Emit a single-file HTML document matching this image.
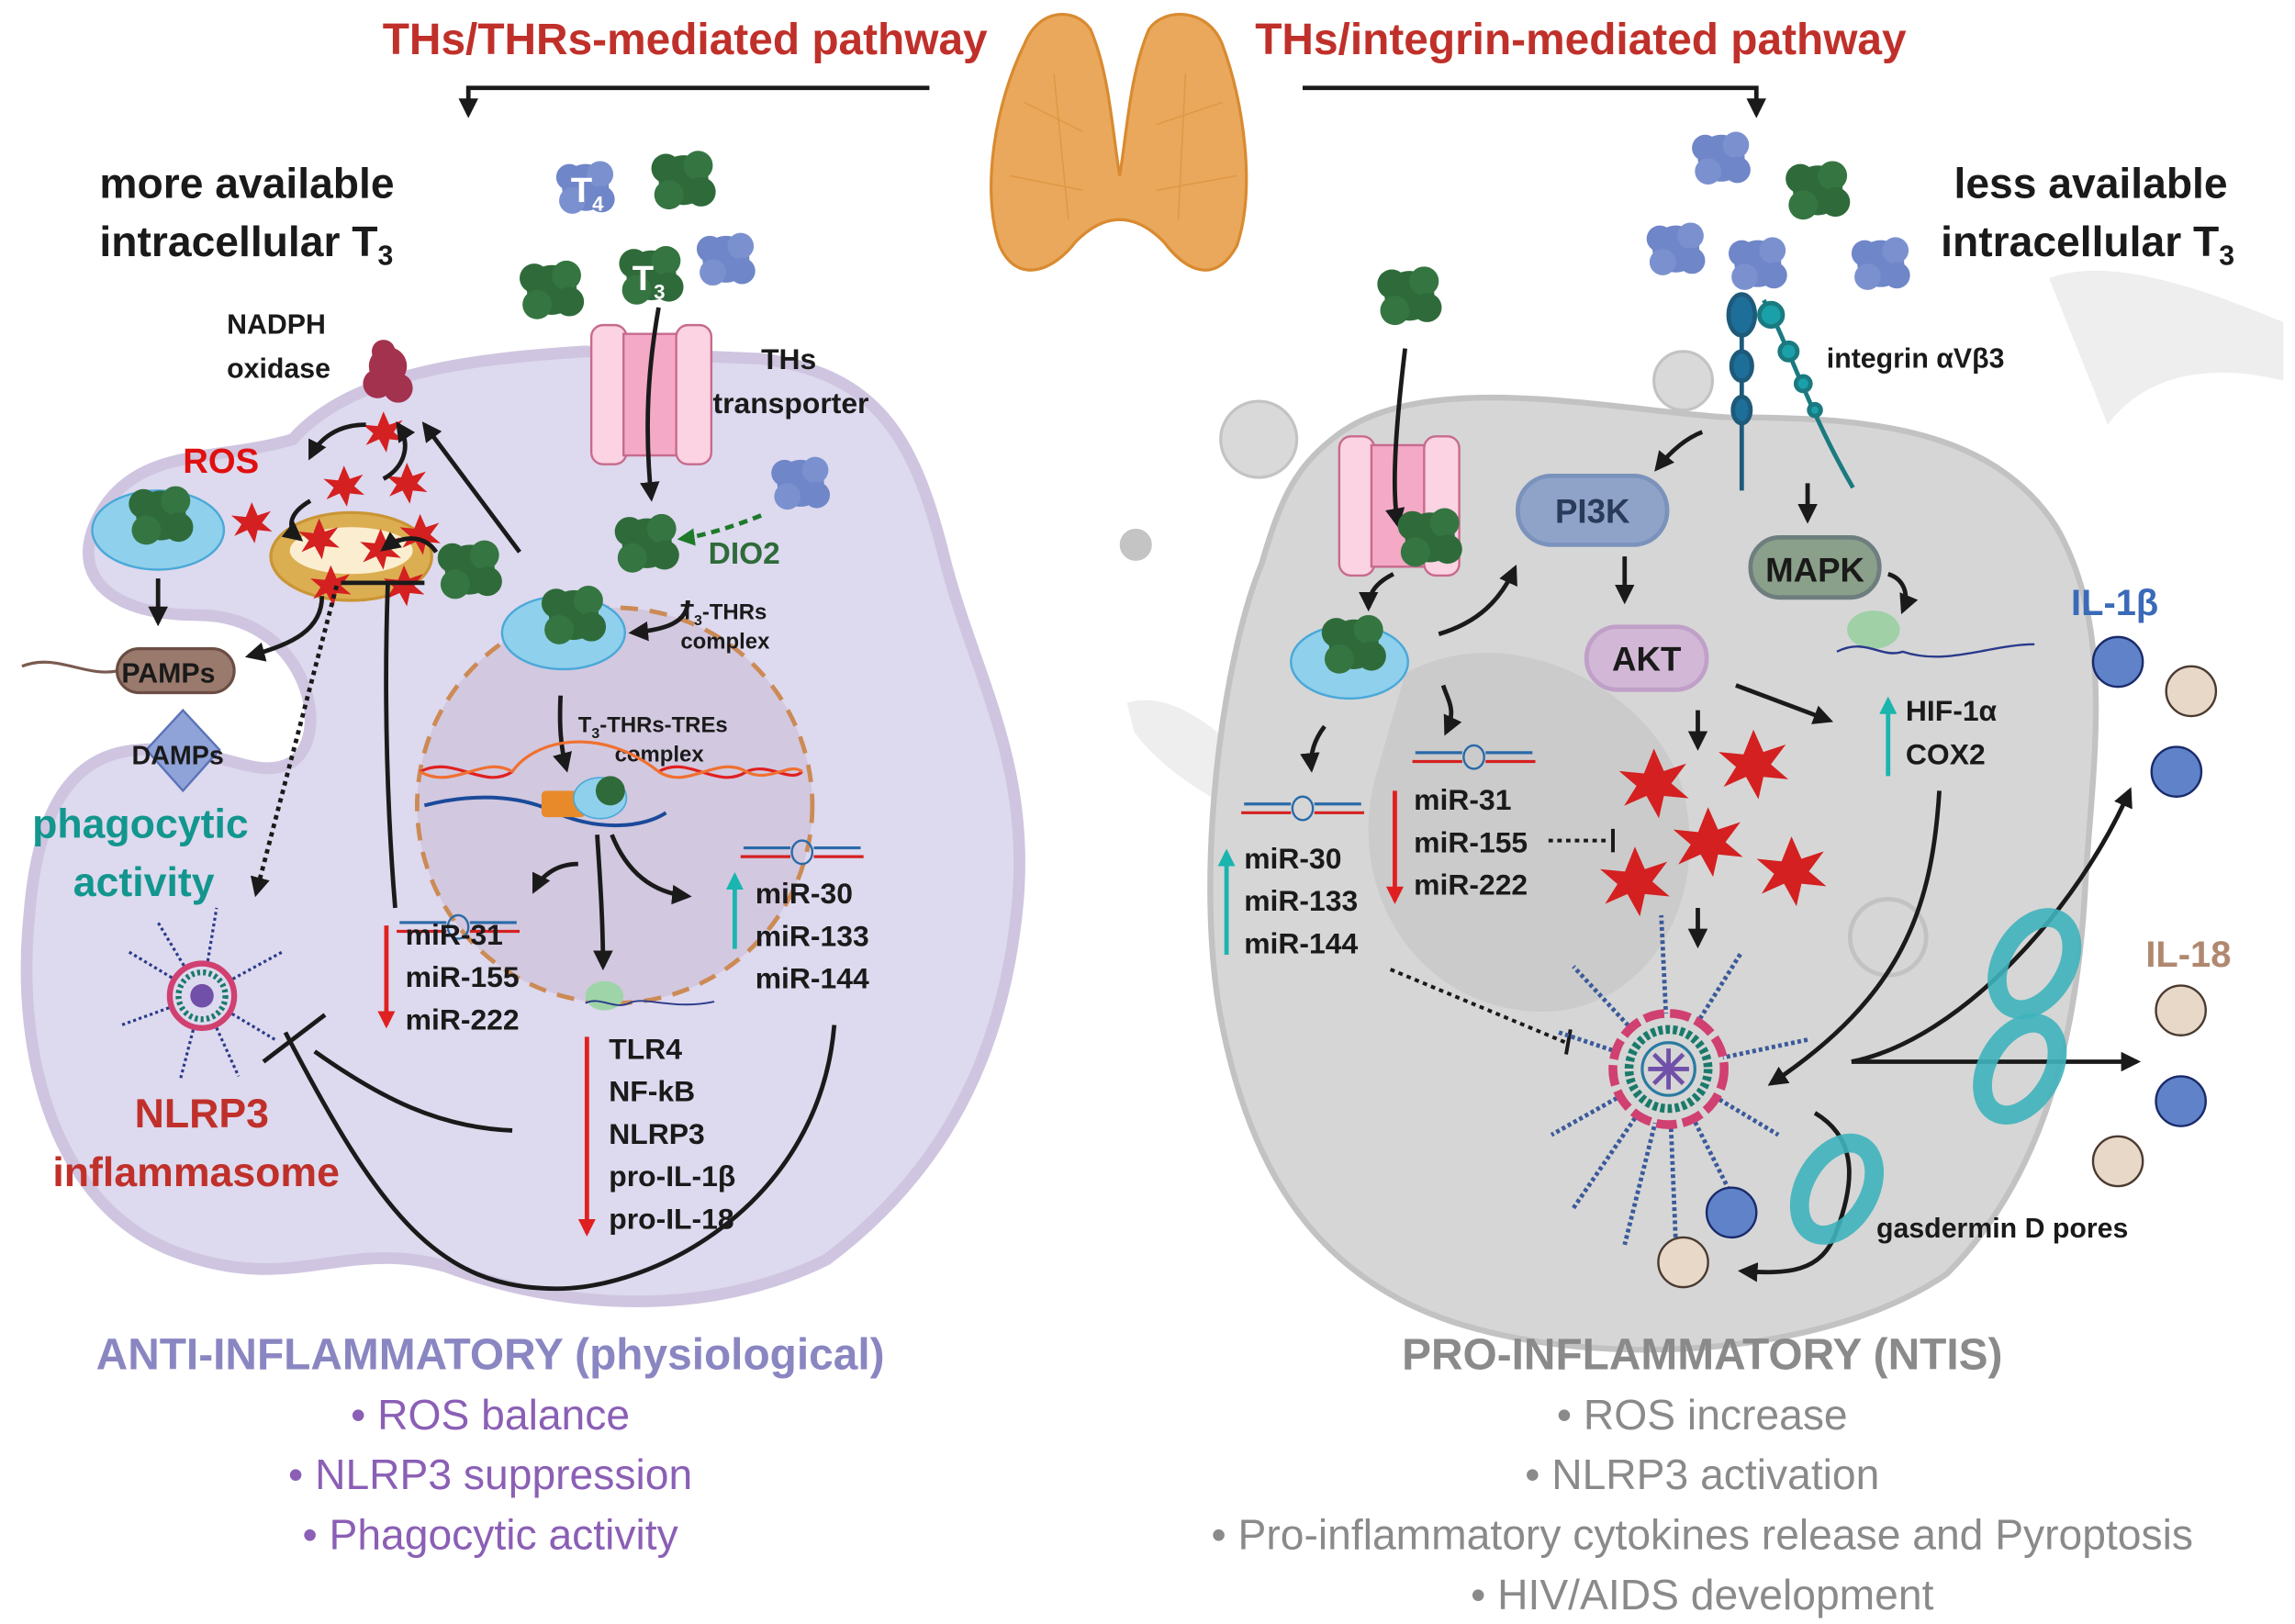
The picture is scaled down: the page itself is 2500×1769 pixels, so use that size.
<!DOCTYPE html>
<html><head><meta charset="utf-8"><style>
html,body{margin:0;padding:0;background:#fff}
svg{display:block}
text{font-family:"Liberation Sans",sans-serif}
.b{font-weight:bold;fill:#1a1a1a}
</style></head><body>
<svg width="2500" height="1769" viewBox="0 0 1568 1109" preserveAspectRatio="none" xmlns="http://www.w3.org/2000/svg">
<defs>
<marker id="ah" viewBox="0 0 10 10" refX="8" refY="5" markerWidth="4.5" markerHeight="4.5" orient="auto"><path d="M0,0 L10,5 L0,10 z" fill="#1a1a1a"/></marker>
<marker id="ahr" viewBox="0 0 10 10" refX="8" refY="5" markerWidth="4" markerHeight="4" orient="auto"><path d="M0,0 L10,5 L0,10 z" fill="#e02020"/></marker>
<marker id="aht" viewBox="0 0 10 10" refX="8" refY="5" markerWidth="4" markerHeight="4" orient="auto"><path d="M0,0 L10,5 L0,10 z" fill="#19b5ae"/></marker>
<marker id="ahg" viewBox="0 0 10 10" refX="8" refY="5" markerWidth="4" markerHeight="4" orient="auto"><path d="M0,0 L10,5 L0,10 z" fill="#1e7a2a"/></marker>
<g id="gb"><circle cx="0" cy="0" r="17" fill="#2f6b3a"/><circle cx="-12" cy="-8" r="10" fill="#2f6b3a"/><circle cx="10" cy="-10" r="10" fill="#357541"/><circle cx="12" cy="8" r="10" fill="#2f6b3a"/><circle cx="-10" cy="10" r="10" fill="#357541"/></g>
<g id="bb"><circle cx="0" cy="0" r="16" fill="#6f86c8"/><circle cx="-11" cy="-7" r="9" fill="#6f86c8"/><circle cx="10" cy="-9" r="9" fill="#7b91cf"/><circle cx="11" cy="8" r="9" fill="#6f86c8"/><circle cx="-9" cy="9" r="9" fill="#7b91cf"/></g>
<path id="st" d="M0,-14 L4,-5 L13,-8 L7,0 L14,6 L4,5 L2,14 L-3,5 L-12,9 L-7,1 L-14,-5 L-4,-4 z" fill="#d42020"/>
<g id="mir"><line x1="-42" y1="0" x2="-8" y2="0" stroke="#d42020" stroke-width="2"/><line x1="8" y1="0" x2="42" y2="0" stroke="#d42020" stroke-width="2"/><line x1="-40" y1="-6" x2="-8" y2="-6" stroke="#2a6aa8" stroke-width="2"/><line x1="8" y1="-6" x2="40" y2="-6" stroke="#2a6aa8" stroke-width="2"/><ellipse cx="0" cy="-3" rx="7" ry="8" fill="none" stroke="#2a6aa8" stroke-width="1.5"/></g>
<g id="pore"><ellipse cx="0" cy="0" rx="22" ry="34" fill="none" stroke="#3fb3bd" stroke-width="13" opacity="0.9" transform="rotate(30)"/></g>
</defs>

<!-- right background decorations -->
<path d="M1400,190 C1440,175 1500,195 1560,220 L1560,260 C1520,250 1470,250 1440,290 Z" fill="#eeeeee"/>
<path d="M770,480 C800,470 840,500 868,540 L862,560 C820,545 790,520 775,500 Z" fill="#eeeeee"/>
<circle cx="860" cy="300" r="26" fill="#d9d9d9" stroke="#c3c3c3" stroke-width="2"/>
<circle cx="1150" cy="260" r="20" fill="#d9d9d9" stroke="#c3c3c3" stroke-width="2"/>
<circle cx="776" cy="372" r="11" fill="#c4c4c4"/>

<!-- right cell -->
<path d="M910,300 C970,250 1100,280 1180,285 C1270,285 1360,290 1405,360 C1445,430 1430,520 1425,600 C1420,700 1400,800 1330,870 C1250,925 1100,935 1000,905 C900,875 855,800 835,700 C815,600 835,450 862,385 C875,340 885,320 910,300 Z" fill="#d6d6d6" stroke="#c2c2c2" stroke-width="4"/>
<path d="M960,460 C1030,420 1130,470 1150,540 C1170,620 1120,700 1040,690 C960,680 920,600 940,530 Z" fill="#cbcbcb"/>
<circle cx="1290" cy="640" r="26" fill="#d6d6d6" stroke="#c2c2c2" stroke-width="3"/>

<!-- left cell -->
<path d="M200,300 C240,255 320,245 400,240 L520,245 C600,255 625,300 645,380 C665,460 705,520 695,620 C685,720 645,800 565,860 C485,900 385,895 305,865 C235,845 200,885 120,855 C40,825 10,725 20,625 C25,560 45,515 95,512 C150,508 175,535 200,520 C228,500 208,420 135,420 C65,420 45,385 72,345 C100,305 150,315 200,300 Z" fill="#ddd9ee" stroke="#cfc5e0" stroke-width="8"/>
<circle cx="420" cy="550" r="135" fill="#d2c8df" stroke="#cc8a55" stroke-width="3" stroke-dasharray="12 8"/>

<!-- titles -->
<text x="468" y="37" text-anchor="middle" font-size="30" font-weight="bold" fill="#c0302a">THs/THRs-mediated pathway</text>
<text x="1080" y="37" text-anchor="middle" font-size="30" font-weight="bold" fill="#c0302a">THs/integrin-mediated pathway</text>
<polyline points="635,60 320,60 320,78" fill="none" stroke="#1a1a1a" stroke-width="3" marker-end="url(#ah)"/>
<polyline points="890,60 1200,60 1200,78" fill="none" stroke="#1a1a1a" stroke-width="3" marker-end="url(#ah)"/>

<!-- thyroid -->
<path d="M700,30 C710,5 735,5 745,20 C758,50 760,90 765,120 C770,90 772,50 785,20 C795,5 825,5 835,30 C850,70 858,130 845,168 C830,195 810,185 795,165 C785,155 775,150 765,150 C755,150 745,155 735,165 C720,185 695,195 683,168 C670,130 680,70 700,30 Z" fill="#e9a85c" stroke="#d98a30" stroke-width="2"/>
<path d="M700,70 L740,90 M690,120 L740,130 M790,85 L835,70 M790,130 L845,120 M720,50 L730,150 M810,50 L805,150" stroke="#d98a30" stroke-width="1" opacity="0.5"/>

<!-- left top -->
<text x="68" y="135" class="b" font-size="29">more available</text>
<text x="68" y="175" class="b" font-size="29">intracellular T<tspan font-size="19" dy="6">3</tspan></text>
<use href="#bb" x="400" y="128"/><text x="390" y="138" font-size="24" font-weight="bold" fill="#fff">T<tspan font-size="14" dy="6">4</tspan></text>
<use href="#gb" x="467" y="123"/>
<use href="#gb" x="377" y="198"/>
<use href="#gb" x="445" y="188"/><text x="432" y="198" font-size="24" font-weight="bold" fill="#fff">T<tspan font-size="14" dy="6">3</tspan></text>
<use href="#bb" x="496" y="177"/>
<rect x="404" y="222" width="24" height="95" rx="8" fill="#fbd3e3" stroke="#c76b8d" stroke-width="1.5"/>
<rect x="426" y="228" width="38" height="83" fill="#f4a9c6" stroke="#c76b8d" stroke-width="1.5"/>
<rect x="462" y="222" width="24" height="95" rx="8" fill="#fbd3e3" stroke="#c76b8d" stroke-width="1.5"/>
<path d="M450,210 C443,250 440,290 445,340" fill="none" stroke="#1a1a1a" stroke-width="3" marker-end="url(#ah)"/>
<text x="520" y="252" class="b" font-size="20">THs</text>
<text x="487" y="282" class="b" font-size="20">transporter</text>
<text x="155" y="228" class="b" font-size="19">NADPH</text>
<text x="155" y="258" class="b" font-size="19">oxidase</text>
<g fill="#a3324f"><circle cx="265" cy="250" r="13"/><circle cx="258" cy="262" r="10"/><circle cx="272" cy="265" r="10"/><circle cx="262" cy="240" r="8"/></g>
<text x="125" y="323" font-size="24" font-weight="bold" fill="#e01010">ROS</text>
<use href="#bb" x="547" y="330"/>
<path d="M520,352 C500,360 480,366 465,368" fill="none" stroke="#1e7a2a" stroke-width="3" stroke-dasharray="6 4" marker-end="url(#ahg)"/>
<text x="484" y="385" font-size="21" font-weight="bold" fill="#2f6b3a">DIO2</text>
<use href="#gb" x="442" y="371"/>
<use href="#gb" x="321" y="389"/>
<ellipse cx="108" cy="362" rx="45" ry="27" fill="#8fd0ec" stroke="#4aa8d8" stroke-width="1.5"/>
<use href="#gb" x="110" y="352"/>
<ellipse cx="240" cy="380" rx="55" ry="30" fill="#dcae52" stroke="#c99535" stroke-width="2"/>
<ellipse cx="240" cy="376" rx="42" ry="16" fill="#fbeed0"/>
<use href="#st" x="235" y="332"/><use href="#st" x="172" y="357"/><use href="#st" x="218" y="368"/><use href="#st" x="260" y="375"/><use href="#st" x="278" y="330"/><use href="#st" x="287" y="365"/><use href="#st" x="226" y="400"/><use href="#st" x="276" y="400"/><use href="#st" x="262" y="295"/>
<path d="M250,290 C230,290 218,300 212,312" fill="none" stroke="#1a1a1a" stroke-width="3" marker-end="url(#ah)"/>
<path d="M262,327 C275,320 282,305 272,290" fill="none" stroke="#1a1a1a" stroke-width="3" marker-end="url(#ah)"/>
<path d="M212,342 C198,350 195,360 205,368" fill="none" stroke="#1a1a1a" stroke-width="3" marker-end="url(#ah)"/>
<path d="M298,377 C290,365 275,365 262,375" fill="none" stroke="#1a1a1a" stroke-width="3" marker-end="url(#ah)"/>
<line x1="355" y1="377" x2="290" y2="290" stroke="#1a1a1a" stroke-width="3" marker-end="url(#ah)"/>
<line x1="108" y1="395" x2="108" y2="425" stroke="#1a1a1a" stroke-width="3" marker-end="url(#ah)"/>
<path d="M220,407 C220,430 200,440 170,448" fill="none" stroke="#1a1a1a" stroke-width="3" marker-end="url(#ah)"/>
<path d="M15,455 C40,445 60,465 85,457" fill="none" stroke="#7a5a50" stroke-width="2"/>
<rect x="80" y="443" width="80" height="30" rx="15" fill="#9b7a6e" stroke="#6b4d43" stroke-width="2"/>
<text x="83" y="466" class="b" font-size="19">PAMPs</text>
<path d="M125,485 L150,512 L125,540 L100,512 Z" fill="#8fa3d8" stroke="#5a72b8" stroke-width="1.5"/>
<text x="90" y="522" class="b" font-size="18">DAMPs</text>
<text x="22" y="572" font-size="28" font-weight="bold" fill="#12968e">phagocytic</text>
<text x="50" y="612" font-size="28" font-weight="bold" fill="#12968e">activity</text>
<line x1="230" y1="400" x2="175" y2="610" stroke="#1a1a1a" stroke-width="3" stroke-dasharray="3 3" marker-end="url(#ah)"/>
<line x1="233" y1="398" x2="290" y2="398" stroke="#1a1a1a" stroke-width="3"/>
<path d="M265,398 C262,480 265,560 270,620" fill="none" stroke="#1a1a1a" stroke-width="3"/>
<ellipse cx="385" cy="432" rx="42" ry="25" fill="#8fd0ec" stroke="#4aa8d8" stroke-width="1.5"/>
<use href="#gb" x="392" y="420"/>
<path d="M470,410 C470,425 455,430 432,432" fill="none" stroke="#1a1a1a" stroke-width="3" marker-end="url(#ah)"/>
<text x="465" y="423" class="b" font-size="15">T<tspan font-size="10" dy="4">3</tspan><tspan dy="-4">-THRs</tspan></text>
<text x="465" y="443" class="b" font-size="15">complex</text>
<text x="395" y="500" class="b" font-size="15">T<tspan font-size="10" dy="4">3</tspan><tspan dy="-4">-THRs-TREs</tspan></text>
<text x="420" y="520" class="b" font-size="15">complex</text>
<path d="M383,475 C382,495 383,510 387,525" fill="none" stroke="#1a1a1a" stroke-width="3" marker-end="url(#ah)"/>
<path d="M287,527 C310,515 330,540 350,527 M450,527 C470,515 490,540 510,527 C525,520 540,535 548,527" fill="none" stroke="#e02020" stroke-width="2"/>
<path d="M287,527 C310,540 330,515 350,527 M450,527 C470,540 490,515 510,527 C525,535 540,520 548,527" fill="none" stroke="#f07030" stroke-width="2"/>
<path d="M350,527 C365,505 410,495 450,527" fill="none" stroke="#f07030" stroke-width="2"/>
<path d="M290,550 C330,540 360,545 380,555 C410,568 440,565 455,555" fill="none" stroke="#1a4a9a" stroke-width="2.5"/>
<rect x="370" y="540" width="30" height="18" rx="3" fill="#e88a2a"/>
<ellipse cx="410" cy="545" rx="18" ry="14" fill="#8fd0ec" stroke="#4aa8d8"/>
<circle cx="417" cy="540" r="10" fill="#2f6b3a"/>
<path d="M395,590 C380,590 370,598 365,608" fill="none" stroke="#1a1a1a" stroke-width="3" marker-end="url(#ah)"/>
<path d="M408,570 C410,600 412,630 412,660" fill="none" stroke="#1a1a1a" stroke-width="3" marker-end="url(#ah)"/>
<path d="M418,570 C430,600 450,610 470,612" fill="none" stroke="#1a1a1a" stroke-width="3" marker-end="url(#ah)"/>
<use href="#mir" x="313" y="636"/>
<use href="#mir" x="548" y="585"/>
<text x="277" y="645" class="b" font-size="20">miR-31</text>
<text x="277" y="674" class="b" font-size="20">miR-155</text>
<text x="277" y="703" class="b" font-size="20">miR-222</text>
<line x1="264" y1="632" x2="264" y2="700" stroke="#e02020" stroke-width="3" marker-end="url(#ahr)"/>
<text x="516" y="617" class="b" font-size="20">miR-30</text>
<text x="516" y="646" class="b" font-size="20">miR-133</text>
<text x="516" y="675" class="b" font-size="20">miR-144</text>
<line x1="502" y1="648" x2="502" y2="598" stroke="#19b5ae" stroke-width="3" marker-end="url(#aht)"/>
<ellipse cx="413" cy="680" rx="13" ry="10" fill="#9fd4a8"/>
<path d="M400,685 C410,680 420,690 430,685 C440,680 460,690 488,684" fill="none" stroke="#2a3a8a" stroke-width="1.2"/>
<text x="416" y="723" class="b" font-size="20">TLR4</text>
<text x="416" y="752" class="b" font-size="20">NF-kB</text>
<text x="416" y="781" class="b" font-size="20">NLRP3</text>
<text x="416" y="810" class="b" font-size="20">pro-IL-1β</text>
<text x="416" y="839" class="b" font-size="20">pro-IL-18</text>
<line x1="401" y1="708" x2="401" y2="842" stroke="#e02020" stroke-width="3" marker-end="url(#ahr)"/>
<g transform="translate(138,680)">
<g stroke="#2a3a8a" stroke-width="2" stroke-dasharray="2 2">
<line x1="0" y1="0" x2="55" y2="-30"/><line x1="0" y1="0" x2="-50" y2="-30"/><line x1="0" y1="0" x2="-55" y2="20"/><line x1="0" y1="0" x2="50" y2="30"/><line x1="0" y1="0" x2="10" y2="-60"/><line x1="0" y1="0" x2="-15" y2="58"/><line x1="0" y1="0" x2="25" y2="55"/><line x1="0" y1="0" x2="-30" y2="-50"/></g>
<circle r="22" fill="#ddd9ee" stroke="#d04070" stroke-width="4"/><circle r="16" fill="none" stroke="#1a7a6a" stroke-width="4" stroke-dasharray="2 2"/><circle r="8" fill="#7050a8"/></g>
<text x="92" y="770" font-size="28" font-weight="bold" fill="#c0302a">NLRP3</text>
<text x="36" y="810" font-size="28" font-weight="bold" fill="#c0302a">inflammasome</text>
<path d="M350,772 C300,770 260,750 215,718" fill="none" stroke="#1a1a1a" stroke-width="3"/>
<path d="M570,700 C560,820 450,880 380,880 C300,880 260,830 195,705" fill="none" stroke="#1a1a1a" stroke-width="3"/>
<line x1="180" y1="725" x2="222" y2="693" stroke="#1a1a1a" stroke-width="3"/>

<!-- right top -->
<text x="1335" y="135" class="b" font-size="29">less available</text>
<text x="1326" y="175" class="b" font-size="29">intracellular T<tspan font-size="19" dy="6">3</tspan></text>
<use href="#bb" x="1176" y="108"/><use href="#gb" x="1242" y="130"/><use href="#bb" x="1145" y="170"/><use href="#bb" x="1201" y="180"/><use href="#bb" x="1285" y="180"/>
<use href="#gb" x="963" y="202"/>
<g stroke="#1e5a7a" stroke-width="3" fill="#1e6e9a"><line x1="1190" y1="200" x2="1190" y2="335"/><ellipse cx="1190" cy="215" rx="9" ry="14"/><ellipse cx="1190" cy="250" rx="7" ry="10"/><ellipse cx="1190" cy="280" rx="6" ry="9"/></g>
<g stroke="#1a7a80" stroke-width="3" fill="#1aa0a8"><path d="M1205,205 C1220,230 1235,280 1266,333" fill="none"/><circle cx="1210" cy="215" r="8"/><circle cx="1222" cy="240" r="6"/><circle cx="1232" cy="262" r="5"/><circle cx="1240" cy="280" r="4"/></g>
<text x="1248" y="251" class="b" font-size="19">integrin αVβ3</text>
<rect x="915" y="298" width="24" height="95" rx="8" fill="#fbd3e3" stroke="#c76b8d" stroke-width="1.5"/>
<rect x="937" y="304" width="38" height="83" fill="#f4a9c6" stroke="#c76b8d" stroke-width="1.5"/>
<rect x="973" y="298" width="24" height="95" rx="8" fill="#fbd3e3" stroke="#c76b8d" stroke-width="1.5"/>
<path d="M960,238 C955,280 950,330 955,358" fill="none" stroke="#1a1a1a" stroke-width="3" marker-end="url(#ah)"/>
<use href="#gb" x="977" y="367"/>
<path d="M952,392 C940,398 935,405 935,415" fill="none" stroke="#1a1a1a" stroke-width="3" marker-end="url(#ah)"/>
<ellipse cx="922" cy="452" rx="40" ry="25" fill="#8fd0ec" stroke="#4aa8d8" stroke-width="1.5"/>
<use href="#gb" x="925" y="440"/>
<path d="M983,433 C1010,425 1025,410 1035,388" fill="none" stroke="#1a1a1a" stroke-width="3" marker-end="url(#ah)"/>
<path d="M1163,295 C1150,300 1140,310 1132,320" fill="none" stroke="#1a1a1a" stroke-width="3" marker-end="url(#ah)"/>
<rect x="1037" y="325" width="102" height="47" rx="23" fill="#8fa3c8" stroke="#7a92bc" stroke-width="3"/>
<text x="1088" y="357" text-anchor="middle" font-size="23" font-weight="bold" fill="#2a3a5a">PI3K</text>
<line x1="1110" y1="380" x2="1110" y2="410" stroke="#1a1a1a" stroke-width="3" marker-end="url(#ah)"/>
<rect x="1084" y="428" width="82" height="43" rx="21" fill="#d2b8d6" stroke="#c0a0c8" stroke-width="3"/>
<text x="1125" y="458" text-anchor="middle" font-size="23" font-weight="bold" fill="#1a1a1a">AKT</text>
<line x1="1235" y1="330" x2="1235" y2="355" stroke="#1a1a1a" stroke-width="3" marker-end="url(#ah)"/>
<rect x="1196" y="367" width="88" height="41" rx="20" fill="#8aa08a" stroke="#6e7e7e" stroke-width="3"/>
<text x="1240" y="397" text-anchor="middle" font-size="23" font-weight="bold" fill="#1a1a1a">MAPK</text>
<path d="M1290,392 C1300,395 1305,405 1300,417" fill="none" stroke="#1a1a1a" stroke-width="3" marker-end="url(#ah)"/>
<ellipse cx="1280" cy="430" rx="18" ry="13" fill="#9fd0a6"/>
<path d="M1255,445 C1275,435 1285,450 1300,445 C1330,455 1360,440 1390,440" fill="none" stroke="#2a3a8a" stroke-width="1.5"/>
<line x1="1186" y1="468" x2="1250" y2="492" stroke="#1a1a1a" stroke-width="3" marker-end="url(#ah)"/>
<line x1="1290" y1="530" x2="1290" y2="478" stroke="#19b5ae" stroke-width="3" marker-end="url(#aht)"/>
<text x="1302" y="492" class="b" font-size="20">HIF-1α</text>
<text x="1302" y="522" class="b" font-size="20">COX2</text>
<line x1="1160" y1="485" x2="1160" y2="510" stroke="#1a1a1a" stroke-width="3" marker-end="url(#ah)"/>
<use href="#st" transform="translate(1130,535) scale(1.7)"/><use href="#st" transform="translate(1198,522) scale(1.7)"/><use href="#st" transform="translate(1167,575) scale(1.7)"/><use href="#st" transform="translate(1117,602) scale(1.7)"/><use href="#st" transform="translate(1224,595) scale(1.7)"/>
<line x1="1160" y1="620" x2="1160" y2="645" stroke="#1a1a1a" stroke-width="3" marker-end="url(#ah)"/>
<path d="M986,468 C990,480 995,485 988,500" fill="none" stroke="#1a1a1a" stroke-width="3" marker-end="url(#ah)"/>
<path d="M905,496 C898,505 895,515 896,525" fill="none" stroke="#1a1a1a" stroke-width="3" marker-end="url(#ah)"/>
<use href="#mir" x="890" y="555"/>
<use href="#mir" x="1007" y="520"/>
<text x="966" y="553" class="b" font-size="20">miR-31</text>
<text x="966" y="582" class="b" font-size="20">miR-155</text>
<text x="966" y="611" class="b" font-size="20">miR-222</text>
<line x1="953" y1="540" x2="953" y2="615" stroke="#e02020" stroke-width="3" marker-end="url(#ahr)"/>
<line x1="1058" y1="574" x2="1100" y2="574" stroke="#1a1a1a" stroke-width="2.5" stroke-dasharray="3 3"/><line x1="1102" y1="566" x2="1102" y2="582" stroke="#1a1a1a" stroke-width="2.5"/>
<text x="850" y="593" class="b" font-size="20">miR-30</text>
<text x="850" y="622" class="b" font-size="20">miR-133</text>
<text x="850" y="651" class="b" font-size="20">miR-144</text>
<line x1="838" y1="652" x2="838" y2="582" stroke="#19b5ae" stroke-width="3" marker-end="url(#aht)"/>
<line x1="950" y1="662" x2="1070" y2="712" stroke="#1a1a1a" stroke-width="2.5" stroke-dasharray="3 3"/><line x1="1073" y1="703" x2="1070" y2="720" stroke="#1a1a1a" stroke-width="2.5"/>
<g transform="translate(1140,730)">
<g stroke="#3a5a9a" stroke-width="3" stroke-dasharray="2.5 2">
<line x1="0" y1="0" x2="-75" y2="-25"/><line x1="0" y1="0" x2="-80" y2="45"/><line x1="0" y1="0" x2="-65" y2="95"/><line x1="0" y1="0" x2="-30" y2="120"/><line x1="0" y1="0" x2="5" y2="120"/><line x1="0" y1="0" x2="50" y2="100"/><line x1="0" y1="0" x2="75" y2="45"/><line x1="0" y1="0" x2="95" y2="-20"/><line x1="0" y1="0" x2="50" y2="-80"/><line x1="0" y1="0" x2="-5" y2="-105"/><line x1="0" y1="0" x2="-65" y2="-70"/></g>
<circle r="38" fill="#d6d6d6" stroke="#d04070" stroke-width="6" stroke-dasharray="14 4"/>
<circle r="27" fill="none" stroke="#1a7a6a" stroke-width="6" stroke-dasharray="3 2"/>
<circle r="18" fill="none" stroke="#2a7aa0" stroke-width="2"/>
<g stroke="#7050a8" stroke-width="3"><line x1="-14" y1="0" x2="14" y2="0"/><line x1="0" y1="-14" x2="0" y2="14"/><line x1="-10" y1="-10" x2="10" y2="10"/><line x1="-10" y1="10" x2="10" y2="-10"/></g></g>
<path d="M1325,540 C1320,620 1300,680 1210,740" fill="none" stroke="#1a1a1a" stroke-width="3" marker-end="url(#ah)"/>
<path d="M1265,725 C1340,710 1420,620 1455,540" fill="none" stroke="#1a1a1a" stroke-width="3" marker-end="url(#ah)"/>
<line x1="1265" y1="725" x2="1460" y2="725" stroke="#1a1a1a" stroke-width="3" marker-end="url(#ah)"/>
<path d="M1240,760 C1265,775 1270,800 1255,840 C1245,870 1220,870 1190,868" fill="none" stroke="#1a1a1a" stroke-width="3" marker-end="url(#ah)"/>
<use href="#pore" x="1390" y="658"/><use href="#pore" x="1380" y="730"/><use href="#pore" x="1255" y="812"/>
<text x="1282" y="845" class="b" font-size="19">gasdermin D pores</text>
<text x="1415" y="420" font-size="25" font-weight="bold" fill="#3a6ab8">IL-1β</text>
<text x="1466" y="660" font-size="25" font-weight="bold" fill="#b08870">IL-18</text>
<g stroke="#1a2a6a" stroke-width="1.5" fill="#5f82c8"><circle cx="1447" cy="452" r="17"/><circle cx="1487" cy="527" r="17"/><circle cx="1490" cy="752" r="17"/><circle cx="1183" cy="828" r="17"/></g>
<g stroke="#4a3a30" stroke-width="1.5" fill="#e8d8c8"><circle cx="1497" cy="472" r="17"/><circle cx="1490" cy="690" r="17"/><circle cx="1447" cy="793" r="17"/><circle cx="1150" cy="862" r="17"/></g>

<!-- bottom text -->
<text x="335" y="935" text-anchor="middle" font-size="30" font-weight="bold" fill="#8a86c2">ANTI-INFLAMMATORY (physiological)</text>
<text x="335" y="976" text-anchor="middle" font-size="29" fill="#8b5fb5">• ROS balance</text>
<text x="335" y="1017" text-anchor="middle" font-size="29" fill="#8b5fb5">• NLRP3 suppression</text>
<text x="335" y="1058" text-anchor="middle" font-size="29" fill="#8b5fb5">• Phagocytic activity</text>
<text x="1163" y="935" text-anchor="middle" font-size="30" font-weight="bold" fill="#8a8a8a">PRO-INFLAMMATORY (NTIS)</text>
<text x="1163" y="976" text-anchor="middle" font-size="29" fill="#8a8a8a">• ROS increase</text>
<text x="1163" y="1017" text-anchor="middle" font-size="29" fill="#8a8a8a">• NLRP3 activation</text>
<text x="1163" y="1058" text-anchor="middle" font-size="29" fill="#8a8a8a">• Pro-inflammatory cytokines release and Pyroptosis</text>
<text x="1163" y="1099" text-anchor="middle" font-size="29" fill="#8a8a8a">• HIV/AIDS development</text>
</svg>
</body></html>
